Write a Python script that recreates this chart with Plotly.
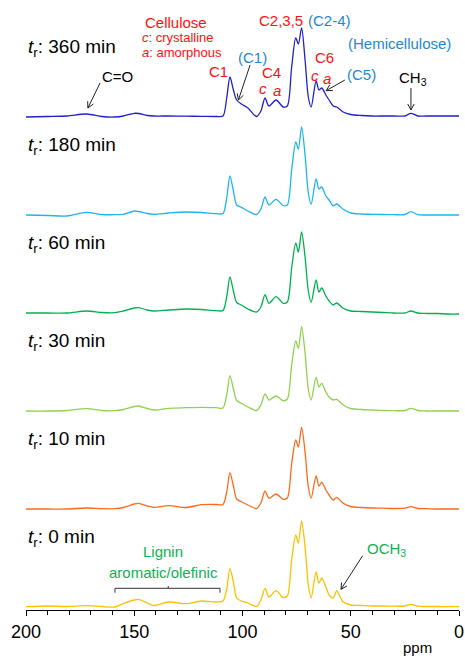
import math
import plotly.graph_objects as go

# Chemical shift grid (ppm) shared by all spectra
ppm = [200, 190, 181, 172, 165, 159, 155, 150, 148, 144, 141, 134, 126, 119, 112, 109,
       107.3, 105.8, 104.2, 102.7, 100.5, 97.5, 93.5, 91.5, 89.6, 87.8,
       84.5, 81.2, 79.3, 77.3, 75.4, 74.2, 72.7, 71.1, 69.6, 68.3,
       66.0, 64.7, 63.4, 61.5, 60.0, 58.1, 56.5, 53.5, 50, 45,
       40, 35, 30, 25, 22.2, 19, 15, 10, 5, 0]

# Signal intensities (a.u.) for each reaction time
int_0min = [0.3, 1, 0.5, 1.3, 0.5, 0, 3.5, 7, 7.7, 4, 1.5, 5, 3.3, 6, 5, 6,
            18, 38.7, 25, 9, 6, 4, 0.5, 7, 18.7, 10,
            16.3, 9.5, 11, 47, 72, 64, 86, 60, 22, 9,
            35, 24, 29, 20, 12, 9, 16, 5, 2, 1.5,
            1, 1, 0.8, 1, 2.7, 0.8, 0.5, 0.5, 0.3, 0.3]
int_10min = [0, 0, 0, 1, 0.3, 0.3, 1.5, 5, 5.7, 3, 1.7, 3.3, 1.5, 4.3, 4.5, 4.5,
             17, 36.3, 23, 10, 7.3, 4, 0.5, 6, 18, 10.7,
             15, 9.7, 11, 45, 69, 62, 81.7, 57, 22, 10.7,
             33, 23, 26.7, 19, 14, 9, 11.7, 5.7, 2.5, 1.5,
             1, 0.8, 0.5, 0.8, 2.3, 0.5, 0.3, 0, 0, 0]
int_30min = [0, 0, 0.5, 2.3, 0.5, 0.3, 1.5, 4.5, 5, 2.5, 1, 2.7, 3.3, 3.7, 3.3, 3,
             16, 35.3, 22, 10.5, 7.7, 4, 0.5, 6, 17, 11,
             15, 10.3, 12, 46, 70, 62.7, 84.3, 58, 22, 11,
             33.7, 24, 27.7, 19, 14, 11, 11.7, 6, 2.5, 1.5,
             1, 0.5, 0.3, 0.5, 2.7, 0.5, 0, 0, 0, 0]
int_60min = [0, 0, 0, 2, 0.5, 0.3, 2, 5, 5.3, 3, 2, 3, 4, 3.5, 2.3, 2.5,
             16, 36, 22, 10.5, 8, 4, 1, 6, 18.3, 9.7,
             16.3, 9.7, 11, 45, 70, 61, 81, 56, 22, 10.7,
             33, 21, 25, 17, 12, 8, 10, 4.7, 2, 1.5,
             1, 0.5, 0, 0, 2, 0, -0.5, -0.5, -1, -1]
int_180min = [0, -0.5, -1, 2.7, 0.5, 0.3, 0.7, 4, 3.5, 1.5, 0.7, 2, 3, 2.5, 1.3, 1.5,
              17, 39, 24, 10, 7.7, 4, 0.5, 6, 18, 10,
              15.7, 9.5, 10, 45, 73, 66, 88, 60, 22, 10.7,
              36, 26, 28, 19, 15, 9, 11, 5.7, 2, 1,
              0.7, 0.5, 0.3, 0.5, 3.3, 0.3, 0, 0, 0, 0]
int_360min = [0, 0.5, 1, 3, 0.5, 0, 1, 3.7, 3.5, 1.5, 1, 1, 0.8, 0.7, 0.5, 1,
              19, 40, 27, 17, 13, 9, 0.5, 6, 19, 11,
              17, 10, 11, 50, 79, 73, 89, 57, 20, 10,
              36, 27, 29, 22, 17, 11, 10, 5, 2.5, 1.5,
              1, 1, 1, 1, 3.7, 1, 1, 1, 1, 1]

times_min = [0, 10, 30, 60, 180, 360]
spectra = [int_0min, int_10min, int_30min, int_60min, int_180min, int_360min]
line_colors = ["#FFC000", "#FF6A1A", "#92D050", "#00B050", "#1FB4F0", "#2020CC"]

FONT = "Liberation Sans, Arial, sans-serif"
RED = "#FF1010"
BLUE = "#2388D2"
GREEN = "#10B050"
STEP = 98          # vertical stacking step between spectra
LABEL_RISE = 69    # height of the t_r label above its baseline

# Plot geometry: pixels per ppm along x, pixels per unit along y
WIDTH, HEIGHT = 465, 658
MARGIN = dict(l=26, r=6, t=0, b=48)
X_RANGE = [200, 0]
Y_RANGE = [-3, 607]
PX_PER_PPM = (WIDTH - MARGIN["l"] - MARGIN["r"]) / abs(X_RANGE[0] - X_RANGE[1])
PX_PER_Y = (HEIGHT - MARGIN["t"] - MARGIN["b"]) / (Y_RANGE[1] - Y_RANGE[0])

fig = go.Figure()
for i, (t, ys, col) in enumerate(zip(times_min, spectra, line_colors)):
    off = i * STEP
    fig.add_trace(go.Scatter(
        x=ppm, y=[v + off for v in ys], mode="lines",
        line=dict(color=col, width=1.3, shape="spline", smoothing=0.8),
        hoverinfo="skip", showlegend=False))
    fig.add_annotation(x=200, y=off + LABEL_RISE, xref="x", yref="y",
                       text=f"<i>t</i><sub>r</sub>: {t} min", showarrow=False,
                       xanchor="left", yanchor="middle",
                       font=dict(size=19, color="black", family=FONT))


def label(x, y, text, color, size=15, anchor="center"):
    fig.add_annotation(x=x, y=y, xref="x", yref="y", text=text, showarrow=False,
                       xanchor=anchor, yanchor="middle",
                       font=dict(size=size, color=color, family=FONT))


def arrow(x, y, ax, ay, head_len=6, head_half=3.2):
    """Straight arrow from (ax, ay) to the tip (x, y) with an open V head."""
    # direction in screen pixels (x axis is reversed)
    dx = (ax - x) * -PX_PER_PPM
    dy = (ay - y) * PX_PER_Y
    n = math.hypot(dx, dy)
    ux, uy = dx / n, dy / n          # unit vector pointing from tip back to tail
    px, py = -uy, ux                 # perpendicular
    wings = []
    for s in (1, -1):
        wx = ux * head_len + s * px * head_half
        wy = uy * head_len + s * py * head_half
        wings.append((x - wx / PX_PER_PPM, y + wy / PX_PER_Y))
    (w1x, w1y), (w2x, w2y) = wings
    path = (f"M{ax},{ay} L{x},{y} "
            f"M{w1x},{w1y} L{x},{y} L{w2x},{w2y}")
    fig.add_shape(type="path", xref="x", yref="y", path=path,
                  line=dict(color="#222222", width=1))


# Peak assignments on the top spectrum
label(130.5, 585, "Cellulose", RED)
label(147.3, 569.3, "<i>c</i>: crystalline", RED, size=13, anchor="left")
label(147.3, 554.7, "<i>a</i>: amorphous", RED, size=13, anchor="left")
label(82.2, 586.3, "C2,3,5", RED)
label(59.6, 586.3, "(C2-4)", BLUE)
label(27.3, 563.7, "(Hemicellulose)", BLUE)
label(95.6, 549.3, "(C1)", BLUE)
label(111.3, 535.3, "C1", RED)
label(86.8, 534.3, "C4", RED)
label(90.7, 518.7, "<i>c</i>", RED)
label(84.0, 516.3, "<i>a</i>", RED)
label(61.9, 549.3, "C6", RED)
label(66.3, 532, "<i>c</i>", RED)
label(60.9, 528.7, "<i>a</i>", RED)
label(45.1, 532.7, "(C5)", BLUE)
label(28.8, 528.7, "CH<sub>3</sub>", "black", anchor="left")
label(157.7, 531, "C=O", "black")
arrow(22.2, 497, 22.2, 519)
arrow(171.4, 499, 165.8, 524)
arrow(101.9, 507, 96.5, 542)
arrow(61.4, 516.3, 52.7, 527)

# Lignin and methoxyl assignments on the bottom spectrum
label(136.6, 55.3, "Lignin", GREEN)
label(136.7, 34.3, "aromatic/olefinic", GREEN)
label(43.4, 57.7, "OCH<sub>3</sub>", GREEN, anchor="left")
arrow(54.5, 17.7, 44.5, 51.3)
fig.add_shape(type="path", xref="x", yref="y",
              path="M158.9,14.3 L158.9,18.7 L110.4,18.7 L110.4,14.3 M134.3,18.7 L134.3,21",
              line=dict(color="#333333", width=1))

fig.add_annotation(x=0.905, y=-0.062, xref="paper", yref="paper", text="ppm",
                   showarrow=False, xanchor="center", yanchor="middle",
                   font=dict(size=15, color="black", family=FONT))

fig.update_layout(
    width=WIDTH, height=HEIGHT, autosize=False,
    margin=MARGIN,
    paper_bgcolor="white", plot_bgcolor="white",
    font=dict(family=FONT, color="black"),
    xaxis=dict(range=X_RANGE, tickvals=[200, 150, 100, 50, 0],
               ticks="outside", ticklen=5, tickwidth=1, tickcolor="black",
               showline=True, linecolor="black", linewidth=1,
               showgrid=False, zeroline=False,
               tickfont=dict(size=18, color="black", family=FONT),
               minor=dict(dtick=10, ticks="outside", ticklen=4, tickcolor="black",
                          tickwidth=1, showgrid=False)),
    yaxis=dict(range=Y_RANGE, visible=False),
)

fig.write_html("out.html")
